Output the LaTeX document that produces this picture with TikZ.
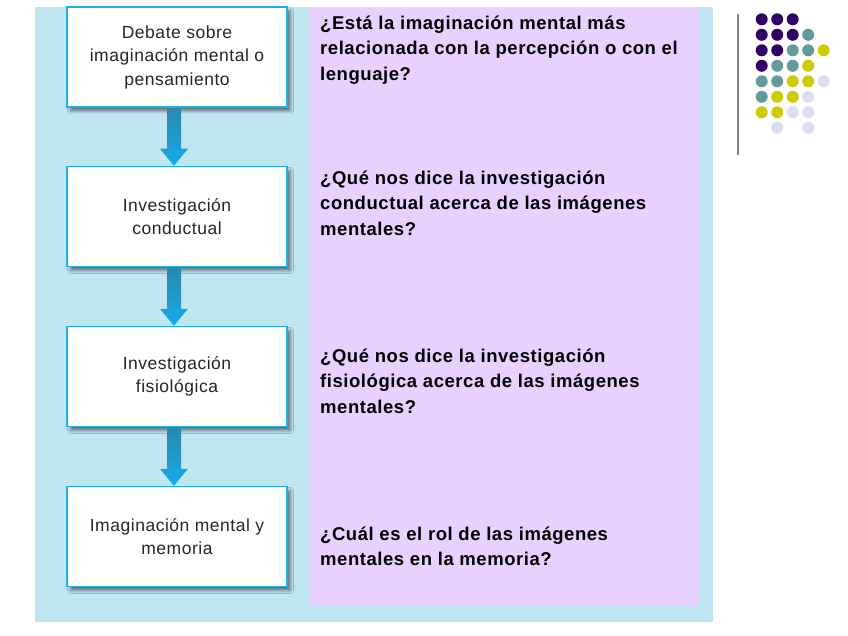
\documentclass[tikz,border=0pt]{standalone}
\usepackage{fontspec}
\setmainfont{Liberation Sans}
\newfontfamily\boxfont[LetterSpace=3]{Liberation Sans}
\newfontfamily\askfont[LetterSpace=3]{Liberation Sans Bold}
\usetikzlibrary{calc,shadows.blur}
\definecolor{bgblue}{HTML}{C0E6F2}
\definecolor{bglila}{HTML}{E8D0FF}
\definecolor{boxblue}{HTML}{1EAFE6}
\definecolor{arrowtop}{HTML}{2A88AE}
\definecolor{arrowbot}{HTML}{14ACEC}
\definecolor{dotP}{HTML}{330066}
\definecolor{dotT}{HTML}{669999}
\definecolor{dotY}{HTML}{CCCC00}
\definecolor{dotL}{HTML}{DDDDF0}

\begin{document}
\begin{tikzpicture}[x=1pt, y=-1pt,
  stagebox/.style={draw=boxblue, line width=1.5pt, fill=white, minimum width=220pt, minimum height=100pt,
    align=center, text=black!85, font=\boxfont\fontsize{17.5}{23.5}\selectfont,
    blur shadow={shadow xshift=3.5pt, shadow yshift=-4pt, shadow blur steps=6, shadow blur radius=3pt, shadow opacity=50}},
  question/.style={anchor=west, align=left, inner sep=0pt, font=\askfont\fontsize{18.5}{25.5}\selectfont},
  flowarrow/.style={top color=arrowtop, bottom color=arrowbot, draw=none}]
  \useasboundingbox (0,0) rectangle (848,636);
  % backgrounds
  \fill[bgblue] (35,7) rectangle (713,622);
  \fill[bglila] (310,7) rectangle (700,605);
  % stages
  \node[stagebox] (debate) at (177,57) {Debate sobre\\imaginación mental o\\pensamiento};
  \node[stagebox] (conducta) at (177,216.5) {Investigación\\conductual};
  \node[stagebox] (fisio) at (177,376.5) {Investigación\\fisiológica};
  \node[stagebox] (memoria) at (177,536.5) {Imaginación mental y\\memoria};
  % arrows between stages
  \foreach \from/\to in {debate/conducta, conducta/fisio, fisio/memoria}
    \path[flowarrow] ($(\from.south)+(-10,0.8)$) -- ($(\from.south)+(4,0.8)$) -- ($(\to.north)+(4,-17)$)
      -- ($(\to.north)+(11,-17)$) -- ($(\to.north)+(-3,0)$) -- ($(\to.north)+(-17,-17)$)
      -- ($(\to.north)+(-10,-17)$) -- cycle;
  % questions
  \node[question] (q1) at (320,50) {¿Está la imaginación mental más\\relacionada con la percepción o con el\\lenguaje?};
  \node[question] (q2) at (320,203) {¿Qué nos dice la investigación\\conductual acerca de las imágenes\\mentales?};
  \node[question] (q3) at (320,381) {¿Qué nos dice la investigación\\fisiológica acerca de las imágenes\\mentales?};
  \node[question] (q4) at (320,546.5) {¿Cuál es el rol de las imágenes\\mentales en la memoria?};
  % corner ornament
  \draw[black!50, line width=2pt] (738,14) -- (738,155);
  \foreach \col/\row/\clr in {1/1/dotP, 2/1/dotP, 3/1/dotP,
      1/2/dotP, 2/2/dotP, 3/2/dotP, 4/2/dotT,
      1/3/dotP, 2/3/dotP, 3/3/dotT, 4/3/dotT, 5/3/dotY,
      1/4/dotP, 2/4/dotT, 3/4/dotT, 4/4/dotY,
      1/5/dotT, 2/5/dotT, 3/5/dotY, 4/5/dotY, 5/5/dotL,
      1/6/dotT, 2/6/dotY, 3/6/dotY, 4/6/dotL,
      1/7/dotY, 2/7/dotY, 3/7/dotL, 4/7/dotL,
      2/8/dotL, 4/8/dotL}
    \fill[\clr] (746.2+15.5*\col, 3.8+15.5*\row) circle (6);
\end{tikzpicture}
\end{document}
